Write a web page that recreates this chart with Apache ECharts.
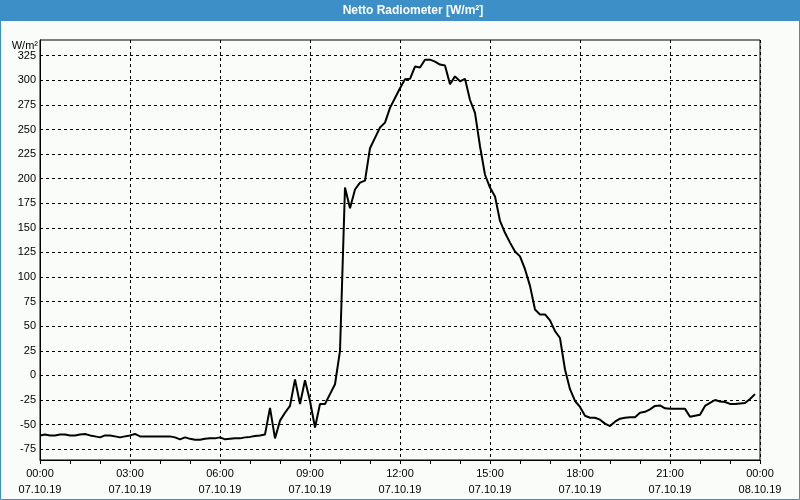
<!DOCTYPE html>
<html>
<head>
<meta charset="utf-8">
<script src="https://cdn.jsdelivr.net/npm/echarts@6/dist/echarts.min.js"></script>
<style>
html,body{margin:0;padding:0;background:#fafcfa;}
#chart{width:800px;height:500px;}
</style>
</head>
<body>
<div id="chart"></div>
<script>
// ---- data ----
var chartTitle = 'Netto Radiometer [W/m²]';
var unitLabel = 'W/m²';
var stepMinutes = 10; // sampling interval, 00:00 07.10.19 onward
var values = [
  -61, -60, -61, -61, -60, -60, -61, -61, -60, -59.5,
  -61, -62, -63, -61, -61, -62, -63, -62, -61, -59.5,
  -62, -62, -62, -62, -62, -62, -62, -63, -65, -63,
  -64.5, -65.5, -65.5, -64.5, -64, -64, -63, -65, -64.5, -64,
  -64, -63, -62.5, -61.5, -61, -60, -33, -64, -46, -38,
  -31, -4, -29, -5, -26, -53, -29, -29, -19, -9,
  25, 191, 170, 189, 196, 198, 231, 241.5, 252, 257,
  272, 282, 292, 301, 301.5, 314, 313, 321, 321, 319,
  316, 315, 296, 304, 299, 301.5, 280, 267, 233, 204,
  191, 182, 157, 145, 135, 126, 121, 108, 91, 67,
  62, 62, 56, 45, 38, 6, -14, -26, -32, -41,
  -43, -43, -45, -49, -51.5, -47, -44, -43, -42.5, -42.5,
  -38, -37, -34.5, -31, -30.5, -33.5, -34, -34, -34, -34,
  -42, -41, -40, -31, -28, -25, -26.5, -27, -29, -29,
  -28.5, -28, -24, -19
];
var xTimeLabels = ['00:00', '03:00', '06:00', '09:00', '12:00', '15:00', '18:00', '21:00', '00:00'];
var xDateLabels = ['07.10.19', '07.10.19', '07.10.19', '07.10.19', '07.10.19', '07.10.19', '07.10.19', '07.10.19', '08.10.19'];
var yTicks = [-75, -50, -25, 0, 25, 50, 75, 100, 125, 150, 175, 200, 225, 250, 275, 300, 325];

// ---- build ----
var seriesData = values.map(function (v, i) { return [i * stepMinutes, v]; });
var blue = '#3c8fc7';
var font = 'Liberation Sans, Arial, sans-serif';

var chart = echarts.init(document.getElementById('chart'), null, {renderer: 'canvas'});
chart.setOption({
  animation: false,
  backgroundColor: '#fafcfa',
  grid: {left: 40, right: 40, top: 40, bottom: 40, show: true, borderColor: '#000', borderWidth: 1, backgroundColor: 'transparent', containLabel: false},
  xAxis: {
    type: 'value', min: 0, max: 1440, interval: 180,
    axisLine: {show: true, onZero: false, lineStyle: {color: '#000', width: 1}},
    axisTick: {show: true, length: 4, lineStyle: {color: '#000'}},
    minorTick: {show: true, splitNumber: 3, length: 4, lineStyle: {color: '#000'}},
    splitLine: {show: true, lineStyle: {color: '#000', type: [3, 3], width: 1}},
    axisLabel: {
      color: '#000', fontFamily: font, fontSize: 11, lineHeight: 16, margin: 6,
      showMinLabel: true, showMaxLabel: true,
      formatter: function (v) { var k = Math.round(v / 180); return xTimeLabels[k] + '\n' + xDateLabels[k]; }
    }
  },
  yAxis: {
    type: 'value', min: -86, max: 341,
    axisLine: {show: true, onZero: false, lineStyle: {color: '#000', width: 1}},
    axisTick: {show: false, customValues: yTicks},
    splitLine: {show: true, lineStyle: {color: '#000', type: [3, 3], width: 1}},
    axisLabel: {color: '#000', fontFamily: font, fontSize: 11, margin: 4, customValues: yTicks}
  },
  series: [{
    type: 'line', data: seriesData, showSymbol: false, symbol: 'none',
    lineStyle: {color: '#000', width: 2}, itemStyle: {color: '#000'}
  }],
  graphic: [
    {type: 'rect', z: 100, shape: {x: 0, y: 0, width: 800, height: 21}, style: {fill: blue}},
    {type: 'text', z: 101, x: 413, y: 11, style: {text: chartTitle, fill: '#fff', font: 'bold 12px ' + font, textAlign: 'center', textVerticalAlign: 'middle'}},
    {type: 'rect', z: 100, shape: {x: 0.5, y: 0.5, width: 799, height: 499}, style: {fill: 'none', stroke: blue, lineWidth: 1}},
    {type: 'text', z: 101, x: 38, y: 46, style: {text: unitLabel, fill: '#000', font: '11px ' + font, textAlign: 'right', textVerticalAlign: 'middle'}}
  ]
});
</script>
</body>
</html>
